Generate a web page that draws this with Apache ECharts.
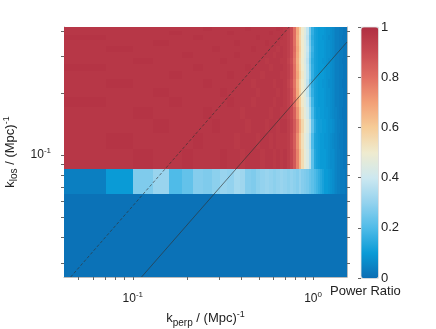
<!DOCTYPE html>
<html>
<head>
<meta charset="utf-8">
<script src="https://cdn.jsdelivr.net/npm/echarts@6/dist/echarts.min.js"></script>
<style>html,body{margin:0;padding:0;background:#fff}#c{width:436px;height:329px}</style>
</head>
<body>
<div id="c"></div>
<script>
// k_perp bin edges (Mpc^-1)
const xEdges = [0.0415,0.071,0.1004,0.1299,0.1593,0.1888,0.2182,0.2477,0.2771,0.3066,0.336,0.3655,0.3949,0.4244,0.4538,0.4833,0.5127,0.5422,0.5716,0.6011,0.6305,0.66,0.6894,0.7189,0.7483,0.7778,0.8072,0.8367,0.8661,0.8956,0.925,0.9545,0.9839,1.0134,1.0428,1.0723,1.1017,1.1312,1.1606,1.1901,1.2195,1.249,1.2784,1.3079,1.3373,1.3668,1.3962,1.4257,1.4551,1.4846,1.514,1.5435];
// k_los bin edges (Mpc^-1)
const yEdges = [0.0256,0.0446,0.066,0.0874,0.1088,0.1302,0.1516,0.173,0.1944,0.2158,0.2372,0.2586,0.28,0.3014,0.3228,0.3442,0.3656,0.387,0.4084,0.418];
// power ratio per row (bottom to top), one value per k_perp bin
const row00 = [0.01,0.01,0.01,0.01,0.01,0.01,0.01,0.01,0.01,0.01,0.01,0.01,0.01,0.01,0.01,0.01,0.01,0.01,0.01,0.01,0.01,0.01,0.01,0.01,0.01,0.01,0.01,0.01,0.01,0.01,0.01,0.01,0.01,0.01,0.01,0.01,0.01,0.01,0.01,0.01,0.01,0.01,0.01,0.01,0.01,0.01,0.01,0.01,0.01,0.01,0.01];
const row01 = [0.01,0.01,0.01,0.01,0.01,0.01,0.01,0.01,0.01,0.01,0.01,0.01,0.01,0.01,0.01,0.01,0.01,0.01,0.01,0.01,0.01,0.01,0.01,0.01,0.01,0.01,0.01,0.01,0.01,0.01,0.01,0.01,0.01,0.01,0.01,0.01,0.01,0.01,0.01,0.01,0.01,0.01,0.01,0.01,0.01,0.01,0.01,0.01,0.01,0.01,0.01];
const row02 = [0.04,0.1,0.27,0.31,0.2,0.23,0.28,0.27,0.29,0.31,0.3,0.33,0.32,0.28,0.27,0.29,0.3,0.31,0.3,0.29,0.3,0.31,0.3,0.29,0.3,0.29,0.28,0.3,0.28,0.27,0.26,0.24,0.22,0.2,0.18,0.16,0.14,0.12,0.1,0.1,0.09,0.08,0.07,0.06,0.05,0.04,0.04,0.03,0.03,0.03,0.02];
const row03 = [0.97,0.97,0.98,0.97,0.97,0.98,0.97,0.97,0.97,0.98,0.97,0.97,0.96,0.97,0.97,0.97,0.96,0.97,0.97,0.96,0.97,0.96,0.97,0.95,0.92,0.86,0.76,0.65,0.55,0.48,0.44,0.36,0.22,0.14,0.12,0.11,0.1,0.1,0.1,0.09,0.08,0.07,0.07,0.06,0.05,0.04,0.04,0.03,0.03,0.02,0.02];
const row04 = [0.97,0.98,0.97,0.97,0.97,0.97,0.98,0.97,0.97,0.97,0.97,0.96,0.97,0.97,0.97,0.96,0.97,0.97,0.96,0.97,0.96,0.96,0.96,0.95,0.91,0.85,0.74,0.63,0.54,0.47,0.43,0.35,0.2,0.13,0.12,0.11,0.1,0.1,0.09,0.09,0.08,0.07,0.06,0.05,0.05,0.04,0.03,0.03,0.03,0.02,0.02];
const row05 = [0.97,0.97,0.97,0.98,0.97,0.97,0.97,0.97,0.98,0.97,0.97,0.97,0.97,0.96,0.97,0.97,0.97,0.96,0.97,0.97,0.96,0.97,0.97,0.95,0.92,0.86,0.77,0.66,0.56,0.49,0.45,0.37,0.23,0.15,0.12,0.11,0.11,0.1,0.1,0.09,0.08,0.08,0.07,0.06,0.05,0.04,0.04,0.03,0.03,0.02,0.02];
const row06 = [0.97,0.97,0.98,0.97,0.97,0.97,0.97,0.98,0.97,0.97,0.97,0.97,0.96,0.97,0.97,0.97,0.97,0.97,0.96,0.97,0.97,0.96,0.96,0.94,0.91,0.84,0.73,0.62,0.53,0.47,0.42,0.33,0.2,0.13,0.11,0.11,0.1,0.1,0.09,0.09,0.08,0.07,0.06,0.05,0.05,0.04,0.03,0.03,0.02,0.02,0.02];
const row07 = [0.98,0.97,0.97,0.97,0.98,0.97,0.97,0.97,0.97,0.97,0.98,0.97,0.97,0.97,0.96,0.97,0.97,0.97,0.97,0.96,0.97,0.97,0.96,0.94,0.9,0.81,0.7,0.6,0.51,0.46,0.4,0.3,0.18,0.12,0.11,0.1,0.1,0.1,0.09,0.08,0.08,0.07,0.06,0.05,0.04,0.04,0.03,0.03,0.03,0.02,0.02];
const row08 = [0.97,0.97,0.97,0.98,0.97,0.97,0.97,0.97,0.97,0.98,0.97,0.97,0.97,0.97,0.97,0.96,0.97,0.97,0.97,0.97,0.96,0.97,0.96,0.94,0.9,0.8,0.68,0.58,0.5,0.45,0.38,0.26,0.16,0.12,0.11,0.1,0.1,0.1,0.09,0.08,0.08,0.07,0.06,0.05,0.04,0.04,0.03,0.03,0.03,0.02,0.02];
const row09 = [0.97,0.98,0.97,0.97,0.97,0.97,0.97,0.98,0.97,0.97,0.97,0.97,0.97,0.97,0.96,0.97,0.97,0.97,0.97,0.96,0.97,0.97,0.96,0.93,0.89,0.79,0.67,0.57,0.5,0.45,0.37,0.25,0.15,0.12,0.11,0.1,0.1,0.09,0.09,0.08,0.07,0.07,0.06,0.05,0.04,0.04,0.03,0.03,0.02,0.02,0.02];
const row10 = [0.97,0.97,0.97,0.97,0.98,0.97,0.97,0.97,0.97,0.97,0.98,0.97,0.97,0.97,0.97,0.97,0.96,0.97,0.97,0.97,0.97,0.96,0.96,0.94,0.9,0.8,0.69,0.59,0.51,0.45,0.38,0.27,0.16,0.12,0.11,0.1,0.1,0.1,0.09,0.08,0.08,0.07,0.06,0.05,0.04,0.04,0.03,0.03,0.03,0.02,0.02];
const row11 = [0.98,0.97,0.97,0.97,0.97,0.97,0.98,0.97,0.97,0.97,0.97,0.97,0.97,0.98,0.97,0.97,0.97,0.97,0.96,0.97,0.97,0.97,0.96,0.94,0.9,0.8,0.68,0.58,0.5,0.45,0.38,0.26,0.16,0.12,0.11,0.1,0.1,0.1,0.09,0.08,0.08,0.07,0.06,0.05,0.04,0.04,0.03,0.03,0.03,0.02,0.02];
const row12 = [0.97,0.97,0.98,0.97,0.97,0.97,0.97,0.97,0.97,0.98,0.97,0.97,0.97,0.97,0.97,0.97,0.97,0.96,0.97,0.97,0.97,0.96,0.96,0.93,0.89,0.79,0.67,0.57,0.49,0.44,0.37,0.25,0.15,0.12,0.11,0.1,0.1,0.09,0.09,0.08,0.07,0.07,0.06,0.05,0.04,0.04,0.03,0.03,0.02,0.02,0.02];
const row13 = [0.97,0.97,0.97,0.97,0.97,0.98,0.97,0.97,0.97,0.97,0.97,0.98,0.97,0.97,0.97,0.97,0.97,0.97,0.97,0.96,0.97,0.97,0.96,0.94,0.9,0.8,0.68,0.58,0.5,0.45,0.38,0.26,0.16,0.12,0.11,0.1,0.1,0.1,0.09,0.08,0.08,0.07,0.06,0.05,0.04,0.04,0.03,0.03,0.03,0.02,0.02];
const row14 = [0.97,0.98,0.97,0.97,0.97,0.97,0.97,0.97,0.98,0.97,0.97,0.97,0.97,0.97,0.98,0.97,0.97,0.97,0.97,0.97,0.96,0.97,0.96,0.94,0.9,0.81,0.69,0.59,0.5,0.45,0.39,0.27,0.17,0.12,0.11,0.1,0.1,0.1,0.09,0.08,0.08,0.07,0.06,0.05,0.04,0.04,0.03,0.03,0.03,0.02,0.02];
const row15 = [0.97,0.97,0.97,0.98,0.97,0.97,0.97,0.97,0.97,0.97,0.97,0.98,0.97,0.97,0.97,0.97,0.97,0.98,0.97,0.97,0.97,0.96,0.96,0.94,0.9,0.8,0.68,0.58,0.5,0.45,0.38,0.26,0.16,0.12,0.11,0.1,0.1,0.1,0.09,0.08,0.08,0.07,0.06,0.05,0.04,0.04,0.03,0.03,0.03,0.02,0.02];
const row16 = [0.98,0.97,0.97,0.97,0.97,0.97,0.98,0.97,0.97,0.97,0.97,0.97,0.97,0.97,0.97,0.98,0.97,0.97,0.97,0.97,0.97,0.97,0.96,0.94,0.9,0.8,0.67,0.57,0.49,0.44,0.37,0.25,0.15,0.12,0.11,0.1,0.1,0.09,0.09,0.08,0.07,0.07,0.06,0.05,0.04,0.04,0.03,0.03,0.02,0.02,0.02];
const row17 = [0.97,0.97,0.97,0.97,0.98,0.97,0.97,0.97,0.97,0.97,0.98,0.97,0.97,0.97,0.97,0.97,0.97,0.97,0.98,0.97,0.97,0.97,0.96,0.94,0.9,0.8,0.68,0.58,0.5,0.45,0.38,0.26,0.16,0.12,0.11,0.1,0.1,0.1,0.09,0.08,0.08,0.07,0.06,0.05,0.04,0.04,0.03,0.03,0.03,0.02,0.02];
const row18 = [0.97,0.97,0.97,0.97,0.97,0.97,0.97,0.98,0.97,0.97,0.97,0.97,0.97,0.98,0.97,0.97,0.97,0.97,0.97,0.97,0.98,0.97,0.96,0.94,0.9,0.8,0.68,0.58,0.5,0.45,0.38,0.26,0.16,0.12,0.11,0.1,0.1,0.1,0.09,0.08,0.08,0.07,0.06,0.05,0.04,0.04,0.03,0.03,0.03,0.02,0.02];
const rows = [row00,row01,row02,row03,row04,row05,row06,row07,row08,row09,row10,row11,row12,row13,row14,row15,row16,row17,row18];

// reference lines (k_perp, k_los)
const dashedLine = [[0.0452,0.0256],[0.737,0.418]];
const solidLine = [[0.1118,0.0256],[1.5435,0.3535]];

// ticks / labels
const xMajor = [0.1, 1];
const xTicks = [0.05,0.06,0.07,0.08,0.09,0.1,0.2,0.3,0.4,0.5,0.6,0.7,0.8,0.9,1];
const yMajor = [0.1];
const yTicks = [0.03,0.04,0.05,0.06,0.07,0.08,0.09,0.1,0.2,0.3,0.4];
const cbarColors = ['#0b6db3','#0a9bd6','#4fbbe8','#93d2ee','#cde8f0','#efebcf','#f6cc97','#f2a077','#e16f63','#c84a52','#b02f42'];

const cells = [];
rows.forEach((r, j) => r.forEach((v, i) => cells.push([xEdges[i], xEdges[i+1], yEdges[j], yEdges[j+1], v])));

const FF = 'Liberation Sans';
const powLabel = v => '{b|10}{s|' + Math.round(Math.log10(v)) + '}';
const labelRich = { b: { fontSize: 12, fontFamily: FF, color: '#222' }, s: { fontSize: 8, fontFamily: FF, color: '#222', padding: [0, 0, 8, 0] } };
const nameRich = {
  k: { fontSize: 13, fontFamily: FF, color: '#222' },
  sub: { fontSize: 10, fontFamily: FF, color: '#222', padding: [8, 0, 0, 0] },
  sup: { fontSize: 9, fontFamily: FF, color: '#222', padding: [0, 0, 9, 0] }
};

const chart = echarts.init(document.getElementById('c'), null, { renderer: 'canvas' });
chart.setOption({
  animation: false,
  backgroundColor: '#fff',
  grid: [
    { left: 64, top: 27, width: 283, height: 250, containLabel: false, outerBoundsMode: 'none' },
    { left: 361, top: 27, width: 17, height: 251, containLabel: false, outerBoundsMode: 'none' }
  ],
  xAxis: [
    { type: 'log', gridIndex: 0, min: xEdges[0], max: xEdges[xEdges.length - 1],
      axisLine: { show: true, lineStyle: { color: '#bbb', width: 1 } },
      axisTick: { show: true, inside: false, length: 3, customValues: xTicks, lineStyle: { color: '#666' } },
      axisLabel: { customValues: xMajor, formatter: powLabel, rich: labelRich, margin: 14 },
      splitLine: { show: false }, minorTick: { show: false },
      name: '{k|k}{sub|perp}{k| / (Mpc)}{sup|-1}', nameLocation: 'middle', nameGap: 26,
      nameTextStyle: { rich: nameRich } },
    { type: 'value', gridIndex: 1, min: 0, max: 1, show: false }
  ],
  yAxis: [
    { type: 'log', gridIndex: 0, min: yEdges[0], max: yEdges[yEdges.length - 1],
      axisLine: { show: true, lineStyle: { color: '#bbb', width: 1 } },
      axisTick: { show: true, inside: false, length: 3, customValues: yTicks, lineStyle: { color: '#666' } },
      axisLabel: { customValues: yMajor, formatter: powLabel, rich: labelRich, margin: 13 },
      splitLine: { show: false }, minorTick: { show: false },
      name: '{k|k}{sub|los}{k| / (Mpc)}{sup|-1}', nameLocation: 'middle', nameGap: 40,
      nameTextStyle: { rich: nameRich } },
    { type: 'log', gridIndex: 0, position: 'right', min: yEdges[0], max: yEdges[yEdges.length - 1],
      axisLine: { show: true, lineStyle: { color: '#bbb', width: 1 } },
      axisTick: { show: true, inside: false, length: 3, customValues: yTicks, lineStyle: { color: '#666' } },
      axisLabel: { show: false }, splitLine: { show: false } },
    { type: 'value', gridIndex: 1, min: 0, max: 1, interval: 0.2, position: 'right',
      axisLine: { show: false },
      axisTick: { show: true, inside: true, length: 3, lineStyle: { color: '#666' } },
      axisLabel: { margin: 3, fontSize: 13, fontFamily: FF, color: '#222' },
      splitLine: { show: false } }
  ],
  visualMap: {
    type: 'continuous', min: 0, max: 1, dimension: 4, seriesIndex: 0,
    calculable: false, left: 361, top: 27, itemWidth: 17, itemHeight: 251,
    padding: 0, borderColor: '#aaa', borderWidth: 0.5, text: null, showLabel: false,
    inRange: { color: cbarColors }
  },
  graphic: [
    { type: 'text', left: 330, top: 285, style: { text: 'Power Ratio', fontSize: 13, fontFamily: FF, fill: '#222' } }
  ],
  series: [
    { type: 'custom', xAxisIndex: 0, yAxisIndex: 0, data: cells,
      encode: { x: [0, 1], y: [2, 3] },
      renderItem: function (params, api) {
        const p0 = api.coord([api.value(0), api.value(3)]);
        const p1 = api.coord([api.value(1), api.value(2)]);
        const cs = params.coordSys;
        const shape = echarts.graphic.clipRectByRect(
          { x: Math.floor(p0[0]), y: Math.floor(p0[1]), width: Math.ceil(p1[0]) - Math.floor(p0[0]) + 1, height: Math.ceil(p1[1]) - Math.floor(p0[1]) + 1 },
          { x: cs.x, y: cs.y, width: cs.width, height: cs.height });
        if (!shape) return null;
        return { type: 'rect', shape: shape, style: { fill: api.visual('color') } };
      } },
    { type: 'line', xAxisIndex: 0, yAxisIndex: 0, data: dashedLine, symbol: 'none',
      lineStyle: { color: '#333', width: 0.8, type: [3, 2], opacity: 0.8 } },
    { type: 'line', xAxisIndex: 0, yAxisIndex: 0, data: solidLine, symbol: 'none',
      lineStyle: { color: '#333', width: 0.8, opacity: 0.8 } }
  ]
});
</script>
</body>
</html>
